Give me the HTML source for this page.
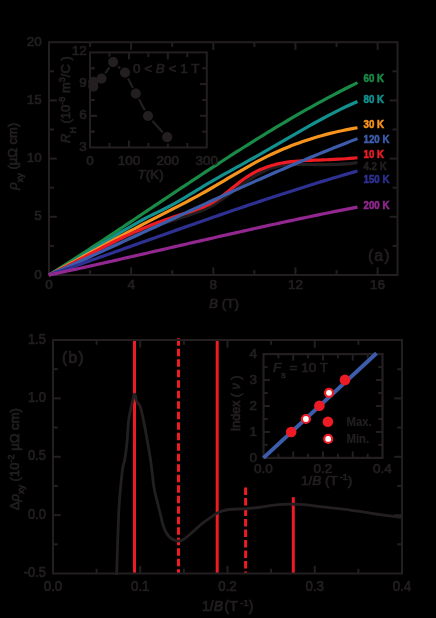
<!DOCTYPE html>
<html><head><meta charset="utf-8"><style>
html,body{margin:0;padding:0;background:#000;width:436px;height:618px;overflow:hidden}
svg{display:block;font-family:"Liberation Sans", sans-serif;will-change:transform}
text{stroke-width:0.7px}
</style></head><body>
<svg width="436" height="618" viewBox="0 0 436 618">
<rect width="436" height="618" fill="#000"/>
<rect x="49.0" y="42.2" width="348.50" height="232.80" fill="none" stroke="#231f20" stroke-width="2.0"/>
<line x1="90.08" y1="275.00" x2="90.08" y2="270.20" stroke="#231f20" stroke-width="2.0" />
<line x1="90.08" y1="42.20" x2="90.08" y2="47.00" stroke="#231f20" stroke-width="2.0" />
<line x1="131.15" y1="275.00" x2="131.15" y2="267.30" stroke="#231f20" stroke-width="2.0" />
<line x1="131.15" y1="42.20" x2="131.15" y2="49.90" stroke="#231f20" stroke-width="2.0" />
<line x1="172.23" y1="275.00" x2="172.23" y2="270.20" stroke="#231f20" stroke-width="2.0" />
<line x1="172.23" y1="42.20" x2="172.23" y2="47.00" stroke="#231f20" stroke-width="2.0" />
<line x1="213.30" y1="275.00" x2="213.30" y2="267.30" stroke="#231f20" stroke-width="2.0" />
<line x1="213.30" y1="42.20" x2="213.30" y2="49.90" stroke="#231f20" stroke-width="2.0" />
<line x1="254.38" y1="275.00" x2="254.38" y2="270.20" stroke="#231f20" stroke-width="2.0" />
<line x1="254.38" y1="42.20" x2="254.38" y2="47.00" stroke="#231f20" stroke-width="2.0" />
<line x1="295.45" y1="275.00" x2="295.45" y2="267.30" stroke="#231f20" stroke-width="2.0" />
<line x1="295.45" y1="42.20" x2="295.45" y2="49.90" stroke="#231f20" stroke-width="2.0" />
<line x1="336.53" y1="275.00" x2="336.53" y2="270.20" stroke="#231f20" stroke-width="2.0" />
<line x1="336.53" y1="42.20" x2="336.53" y2="47.00" stroke="#231f20" stroke-width="2.0" />
<line x1="377.60" y1="275.00" x2="377.60" y2="267.30" stroke="#231f20" stroke-width="2.0" />
<line x1="377.60" y1="42.20" x2="377.60" y2="49.90" stroke="#231f20" stroke-width="2.0" />
<line x1="49.00" y1="245.90" x2="54.00" y2="245.90" stroke="#231f20" stroke-width="2.0" />
<line x1="397.50" y1="245.90" x2="392.50" y2="245.90" stroke="#231f20" stroke-width="2.0" />
<line x1="49.00" y1="216.80" x2="56.90" y2="216.80" stroke="#231f20" stroke-width="2.0" />
<line x1="397.50" y1="216.80" x2="389.60" y2="216.80" stroke="#231f20" stroke-width="2.0" />
<line x1="49.00" y1="187.70" x2="54.00" y2="187.70" stroke="#231f20" stroke-width="2.0" />
<line x1="397.50" y1="187.70" x2="392.50" y2="187.70" stroke="#231f20" stroke-width="2.0" />
<line x1="49.00" y1="158.60" x2="56.90" y2="158.60" stroke="#231f20" stroke-width="2.0" />
<line x1="397.50" y1="158.60" x2="389.60" y2="158.60" stroke="#231f20" stroke-width="2.0" />
<line x1="49.00" y1="129.50" x2="54.00" y2="129.50" stroke="#231f20" stroke-width="2.0" />
<line x1="397.50" y1="129.50" x2="392.50" y2="129.50" stroke="#231f20" stroke-width="2.0" />
<line x1="49.00" y1="100.40" x2="56.90" y2="100.40" stroke="#231f20" stroke-width="2.0" />
<line x1="397.50" y1="100.40" x2="389.60" y2="100.40" stroke="#231f20" stroke-width="2.0" />
<line x1="49.00" y1="71.30" x2="54.00" y2="71.30" stroke="#231f20" stroke-width="2.0" />
<line x1="397.50" y1="71.30" x2="392.50" y2="71.30" stroke="#231f20" stroke-width="2.0" />
<text x="49.00" y="288.60" font-size="13.5" text-anchor="middle" fill="#231f20" stroke="#231f20" font-weight="normal" >0</text>
<text x="131.15" y="288.60" font-size="13.5" text-anchor="middle" fill="#231f20" stroke="#231f20" font-weight="normal" >4</text>
<text x="213.30" y="288.60" font-size="13.5" text-anchor="middle" fill="#231f20" stroke="#231f20" font-weight="normal" >8</text>
<text x="295.45" y="288.60" font-size="13.5" text-anchor="middle" fill="#231f20" stroke="#231f20" font-weight="normal" >12</text>
<text x="377.60" y="288.60" font-size="13.5" text-anchor="middle" fill="#231f20" stroke="#231f20" font-weight="normal" >16</text>
<text x="41.80" y="278.60" font-size="13.5" text-anchor="end" fill="#231f20" stroke="#231f20" font-weight="normal" >0</text>
<text x="41.80" y="220.40" font-size="13.5" text-anchor="end" fill="#231f20" stroke="#231f20" font-weight="normal" >5</text>
<text x="41.80" y="162.20" font-size="13.5" text-anchor="end" fill="#231f20" stroke="#231f20" font-weight="normal" >10</text>
<text x="41.80" y="104.00" font-size="13.5" text-anchor="end" fill="#231f20" stroke="#231f20" font-weight="normal" >15</text>
<text x="41.80" y="45.80" font-size="13.5" text-anchor="end" fill="#231f20" stroke="#231f20" font-weight="normal" >20</text>
<path d="M49.00,275.00 L52.91,272.55 L56.81,270.08 L60.72,267.61 L64.62,265.12 L68.53,262.63 L72.43,260.12 L76.34,257.60 L80.24,255.07 L84.15,252.54 L88.05,249.99 L91.96,247.44 L95.86,244.88 L99.77,242.31 L103.67,239.74 L107.58,237.16 L111.48,234.57 L115.39,231.98 L119.29,229.39 L123.20,226.79 L127.10,224.19 L131.01,221.58 L134.91,218.97 L138.82,216.36 L142.72,213.75 L146.63,211.14 L150.53,208.53 L154.44,205.92 L158.34,203.31 L162.25,200.70 L166.15,198.09 L170.06,195.48 L173.96,192.88 L177.87,190.27 L181.77,187.68 L185.68,185.08 L189.58,182.50 L193.49,179.91 L197.39,177.33 L201.30,174.76 L205.20,172.20 L209.11,169.64 L213.01,167.09 L216.92,164.55 L220.82,162.01 L224.73,159.49 L228.63,156.97 L232.54,154.47 L236.44,151.97 L240.35,149.49 L244.25,147.02 L248.16,144.56 L252.06,142.11 L255.97,139.68 L259.87,137.26 L263.78,134.86 L267.68,132.47 L271.59,130.09 L275.49,127.73 L279.40,125.39 L283.30,123.06 L287.21,120.75 L291.11,118.46 L295.02,116.18 L298.92,113.93 L302.83,111.69 L306.73,109.47 L310.64,107.28 L314.54,105.10 L318.45,102.95 L322.35,100.82 L326.26,98.71 L330.16,96.62 L334.07,94.55 L337.97,92.51 L341.88,90.50 L345.78,88.50 L349.69,86.54 L353.59,84.60 L357.50,82.68" fill="none" stroke="#1a8a47" stroke-width="3.2" stroke-linejoin="round"/>
<path d="M49.00,275.00 L52.91,272.99 L56.81,270.91 L60.72,268.77 L64.62,266.58 L68.53,264.34 L72.43,262.05 L76.34,259.73 L80.24,257.37 L84.15,254.98 L88.05,252.58 L91.96,250.16 L95.86,247.73 L99.77,245.29 L103.67,242.85 L107.58,240.42 L111.48,238.01 L115.39,235.61 L119.29,233.23 L123.20,230.88 L127.10,228.56 L131.01,226.29 L134.91,224.05 L138.82,221.87 L142.72,219.75 L146.63,217.69 L150.53,215.69 L154.44,213.76 L158.34,211.86 L162.25,209.97 L166.15,208.04 L170.06,206.03 L173.96,203.92 L177.87,201.72 L181.77,199.44 L185.68,197.10 L189.58,194.72 L193.49,192.33 L197.39,189.93 L201.30,187.56 L205.20,185.23 L209.11,182.93 L213.01,180.66 L216.92,178.41 L220.82,176.19 L224.73,173.98 L228.63,171.79 L232.54,169.61 L236.44,167.44 L240.35,165.28 L244.25,163.11 L248.16,160.94 L252.06,158.76 L255.97,156.57 L259.87,154.37 L263.78,152.15 L267.68,149.92 L271.59,147.67 L275.49,145.41 L279.40,143.15 L283.30,140.88 L287.21,138.61 L291.11,136.35 L295.02,134.09 L298.92,131.84 L302.83,129.61 L306.73,127.39 L310.64,125.19 L314.54,123.01 L318.45,120.86 L322.35,118.74 L326.26,116.65 L330.16,114.59 L334.07,112.57 L337.97,110.59 L341.88,108.66 L345.78,106.78 L349.69,104.94 L353.59,103.17 L357.50,101.44" fill="none" stroke="#12918f" stroke-width="3.2" stroke-linejoin="round"/>
<path d="M49.00,275.00 L52.91,272.93 L56.81,270.84 L60.72,268.75 L64.62,266.64 L68.53,264.53 L72.43,262.41 L76.34,260.29 L80.24,258.16 L84.15,256.03 L88.05,253.90 L91.96,251.77 L95.86,249.64 L99.77,247.50 L103.67,245.37 L107.58,243.25 L111.48,241.13 L115.39,239.01 L119.29,236.90 L123.20,234.79 L127.10,232.70 L131.01,230.61 L134.91,228.54 L138.82,226.47 L142.72,224.42 L146.63,222.38 L150.53,220.36 L154.44,218.35 L158.34,216.35 L162.25,214.36 L166.15,212.38 L170.06,210.39 L173.96,208.40 L177.87,206.39 L181.77,204.38 L185.68,202.34 L189.58,200.28 L193.49,198.20 L197.39,196.08 L201.30,193.93 L205.20,191.74 L209.11,189.51 L213.01,187.25 L216.92,184.95 L220.82,182.63 L224.73,180.31 L228.63,177.97 L232.54,175.64 L236.44,173.33 L240.35,171.03 L244.25,168.76 L248.16,166.52 L252.06,164.33 L255.97,162.19 L259.87,160.11 L263.78,158.09 L267.68,156.15 L271.59,154.27 L275.49,152.45 L279.40,150.70 L283.30,149.02 L287.21,147.40 L291.11,145.84 L295.02,144.34 L298.92,142.90 L302.83,141.51 L306.73,140.19 L310.64,138.92 L314.54,137.71 L318.45,136.56 L322.35,135.45 L326.26,134.40 L330.16,133.40 L334.07,132.46 L337.97,131.56 L341.88,130.71 L345.78,129.90 L349.69,129.15 L353.59,128.44 L357.50,127.77" fill="none" stroke="#f7941d" stroke-width="3.2" stroke-linejoin="round"/>
<path d="M49.00,275.00 L52.91,273.20 L56.81,271.36 L60.72,269.48 L64.62,267.58 L68.53,265.66 L72.43,263.71 L76.34,261.76 L80.24,259.79 L84.15,257.83 L88.05,255.86 L91.96,253.90 L95.86,251.95 L99.77,250.02 L103.67,248.11 L107.58,246.23 L111.48,244.37 L115.39,242.55 L119.29,240.78 L123.20,239.05 L127.10,237.36 L131.01,235.72 L134.91,234.12 L138.82,232.56 L142.72,231.03 L146.63,229.54 L150.53,228.09 L154.44,226.67 L158.34,225.28 L162.25,223.91 L166.15,222.58 L170.06,221.26 L173.96,219.97 L177.87,218.70 L181.77,217.45 L185.68,216.20 L189.58,214.92 L193.49,213.60 L197.39,212.19 L201.30,210.66 L205.20,208.98 L209.11,207.13 L213.01,205.07 L216.92,202.78 L220.82,200.25 L224.73,197.53 L228.63,194.69 L232.54,191.76 L236.44,188.81 L240.35,185.89 L244.25,183.05 L248.16,180.34 L252.06,177.79 L255.97,175.43 L259.87,173.26 L263.78,171.30 L267.68,169.57 L271.59,168.09 L275.49,166.87 L279.40,165.93 L283.30,165.23 L287.21,164.75 L291.11,164.44 L295.02,164.29 L298.92,164.24 L302.83,164.28 L306.73,164.37 L310.64,164.47 L314.54,164.55 L318.45,164.61 L322.35,164.65 L326.26,164.64 L330.16,164.60 L334.07,164.51 L337.97,164.37 L341.88,164.18 L345.78,163.91 L349.69,163.59 L353.59,163.18 L357.50,162.70" fill="none" stroke="#231f20" stroke-width="3.2" stroke-linejoin="round"/>
<path d="M49.00,275.00 L52.91,273.19 L56.81,271.32 L60.72,269.41 L64.62,267.47 L68.53,265.48 L72.43,263.47 L76.34,261.44 L80.24,259.39 L84.15,257.32 L88.05,255.25 L91.96,253.18 L95.86,251.12 L99.77,249.06 L103.67,247.02 L107.58,245.00 L111.48,243.01 L115.39,241.05 L119.29,239.13 L123.20,237.25 L127.10,235.42 L131.01,233.63 L134.91,231.88 L138.82,230.18 L142.72,228.53 L146.63,226.91 L150.53,225.34 L154.44,223.82 L158.34,222.34 L162.25,220.90 L166.15,219.51 L170.06,218.16 L173.96,216.85 L177.87,215.58 L181.77,214.36 L185.68,213.16 L189.58,211.95 L193.49,210.69 L197.39,209.34 L201.30,207.85 L205.20,206.18 L209.11,204.30 L213.01,202.16 L216.92,199.72 L220.82,196.99 L224.73,194.04 L228.63,190.95 L232.54,187.80 L236.44,184.66 L240.35,181.62 L244.25,178.76 L248.16,176.13 L252.06,173.78 L255.97,171.68 L259.87,169.81 L263.78,168.17 L267.68,166.73 L271.59,165.49 L275.49,164.43 L279.40,163.54 L283.30,162.80 L287.21,162.19 L291.11,161.69 L295.02,161.29 L298.92,160.98 L302.83,160.72 L306.73,160.52 L310.64,160.35 L314.54,160.19 L318.45,160.04 L322.35,159.89 L326.26,159.75 L330.16,159.59 L334.07,159.41 L337.97,159.22 L341.88,159.00 L345.78,158.75 L349.69,158.46 L353.59,158.12 L357.50,157.74" fill="none" stroke="#ed1c24" stroke-width="3.2" stroke-linejoin="round"/>
<path d="M49.00,275.00 L52.91,273.29 L56.81,271.58 L60.72,269.86 L64.62,268.14 L68.53,266.41 L72.43,264.67 L76.34,262.93 L80.24,261.18 L84.15,259.43 L88.05,257.67 L91.96,255.91 L95.86,254.14 L99.77,252.37 L103.67,250.59 L107.58,248.81 L111.48,247.03 L115.39,245.24 L119.29,243.45 L123.20,241.66 L127.10,239.87 L131.01,238.07 L134.91,236.27 L138.82,234.47 L142.72,232.67 L146.63,230.87 L150.53,229.07 L154.44,227.26 L158.34,225.46 L162.25,223.65 L166.15,221.85 L170.06,220.04 L173.96,218.24 L177.87,216.43 L181.77,214.63 L185.68,212.83 L189.58,211.03 L193.49,209.23 L197.39,207.44 L201.30,205.64 L205.20,203.85 L209.11,202.06 L213.01,200.28 L216.92,198.50 L220.82,196.72 L224.73,194.94 L228.63,193.17 L232.54,191.41 L236.44,189.64 L240.35,187.89 L244.25,186.13 L248.16,184.39 L252.06,182.65 L255.97,180.91 L259.87,179.18 L263.78,177.46 L267.68,175.74 L271.59,174.03 L275.49,172.33 L279.40,170.63 L283.30,168.94 L287.21,167.26 L291.11,165.59 L295.02,163.92 L298.92,162.27 L302.83,160.62 L306.73,158.98 L310.64,157.35 L314.54,155.73 L318.45,154.13 L322.35,152.53 L326.26,150.94 L330.16,149.36 L334.07,147.79 L337.97,146.23 L341.88,144.69 L345.78,143.15 L349.69,141.63 L353.59,140.12 L357.50,138.62" fill="none" stroke="#3d5dac" stroke-width="3.2" stroke-linejoin="round"/>
<path d="M49.00,275.00 L52.91,273.66 L56.81,272.31 L60.72,270.96 L64.62,269.61 L68.53,268.25 L72.43,266.89 L76.34,265.53 L80.24,264.16 L84.15,262.79 L88.05,261.42 L91.96,260.05 L95.86,258.67 L99.77,257.30 L103.67,255.92 L107.58,254.54 L111.48,253.16 L115.39,251.77 L119.29,250.39 L123.20,249.01 L127.10,247.62 L131.01,246.24 L134.91,244.85 L138.82,243.46 L142.72,242.08 L146.63,240.69 L150.53,239.31 L154.44,237.92 L158.34,236.54 L162.25,235.15 L166.15,233.77 L170.06,232.39 L173.96,231.01 L177.87,229.63 L181.77,228.26 L185.68,226.88 L189.58,225.51 L193.49,224.14 L197.39,222.77 L201.30,221.41 L205.20,220.05 L209.11,218.69 L213.01,217.33 L216.92,215.98 L220.82,214.63 L224.73,213.29 L228.63,211.95 L232.54,210.61 L236.44,209.28 L240.35,207.95 L244.25,206.62 L248.16,205.30 L252.06,203.99 L255.97,202.68 L259.87,201.38 L263.78,200.08 L267.68,198.79 L271.59,197.50 L275.49,196.22 L279.40,194.94 L283.30,193.67 L287.21,192.41 L291.11,191.16 L295.02,189.91 L298.92,188.67 L302.83,187.43 L306.73,186.20 L310.64,184.99 L314.54,183.77 L318.45,182.57 L322.35,181.37 L326.26,180.19 L330.16,179.01 L334.07,177.84 L337.97,176.67 L341.88,175.52 L345.78,174.38 L349.69,173.24 L353.59,172.12 L357.50,171.00" fill="none" stroke="#2e3192" stroke-width="3.2" stroke-linejoin="round"/>
<path d="M49.00,275.00 L52.91,274.17 L56.81,273.33 L60.72,272.49 L64.62,271.64 L68.53,270.79 L72.43,269.93 L76.34,269.07 L80.24,268.21 L84.15,267.35 L88.05,266.48 L91.96,265.61 L95.86,264.74 L99.77,263.86 L103.67,262.98 L107.58,262.10 L111.48,261.22 L115.39,260.33 L119.29,259.45 L123.20,258.56 L127.10,257.67 L131.01,256.78 L134.91,255.88 L138.82,254.99 L142.72,254.09 L146.63,253.20 L150.53,252.30 L154.44,251.40 L158.34,250.50 L162.25,249.60 L166.15,248.70 L170.06,247.80 L173.96,246.90 L177.87,246.00 L181.77,245.11 L185.68,244.21 L189.58,243.31 L193.49,242.41 L197.39,241.51 L201.30,240.62 L205.20,239.72 L209.11,238.83 L213.01,237.94 L216.92,237.04 L220.82,236.15 L224.73,235.27 L228.63,234.38 L232.54,233.50 L236.44,232.62 L240.35,231.74 L244.25,230.86 L248.16,229.99 L252.06,229.11 L255.97,228.24 L259.87,227.38 L263.78,226.52 L267.68,225.66 L271.59,224.80 L275.49,223.95 L279.40,223.10 L283.30,222.25 L287.21,221.41 L291.11,220.58 L295.02,219.74 L298.92,218.91 L302.83,218.09 L306.73,217.27 L310.64,216.45 L314.54,215.64 L318.45,214.84 L322.35,214.04 L326.26,213.25 L330.16,212.46 L334.07,211.67 L337.97,210.90 L341.88,210.12 L345.78,209.36 L349.69,208.60 L353.59,207.84 L357.50,207.10" fill="none" stroke="#92278f" stroke-width="3.2" stroke-linejoin="round"/>
<text transform="translate(363.5,82.30) scale(0.9,1)" font-size="10.8" fill="#1a8a47" stroke="#1a8a47" font-weight="bold" style="stroke-width:0.55px">60 K</text>
<text transform="translate(363.5,103.40) scale(0.9,1)" font-size="10.8" fill="#12918f" stroke="#12918f" font-weight="bold" style="stroke-width:0.55px">80 K</text>
<text transform="translate(363.5,127.55) scale(0.9,1)" font-size="10.8" fill="#f7941d" stroke="#f7941d" font-weight="bold" style="stroke-width:0.55px">30 K</text>
<text transform="translate(363.5,142.80) scale(0.9,1)" font-size="10.8" fill="#3d5dac" stroke="#3d5dac" font-weight="bold" style="stroke-width:0.55px">120 K</text>
<text transform="translate(363.5,157.80) scale(0.9,1)" font-size="10.8" fill="#ed1c24" stroke="#ed1c24" font-weight="bold" style="stroke-width:0.55px">10 K</text>
<text transform="translate(363.5,169.80) scale(0.9,1)" font-size="10.8" fill="#231f20" stroke="#231f20" font-weight="bold" style="stroke-width:0.55px">4.2 K</text>
<text transform="translate(363.5,182.80) scale(0.9,1)" font-size="10.8" fill="#2e3192" stroke="#2e3192" font-weight="bold" style="stroke-width:0.55px">150 K</text>
<text transform="translate(363.5,208.80) scale(0.9,1)" font-size="10.8" fill="#92278f" stroke="#92278f" font-weight="bold" style="stroke-width:0.55px">200 K</text>
<text x="379.20" y="261.00" font-size="16" text-anchor="middle" fill="#231f20" stroke="#231f20" font-weight="normal" letter-spacing="1">(a)</text>
<text x="224" y="308.3" font-size="13.5" text-anchor="middle" fill="#231f20" stroke="#231f20"><tspan font-style="italic">B</tspan> (T)</text>
<text transform="translate(17,156.2) rotate(-90)" font-size="13" text-anchor="middle" fill="#231f20" stroke="#231f20"><tspan font-style="italic">ρ</tspan><tspan font-size="9" dy="5.5">xy</tspan><tspan dy="-5.5"> (μΩ cm)</tspan></text>
<rect x="90.0" y="52.4" width="116.80" height="95.10" fill="none" stroke="#231f20" stroke-width="2.0"/>
<line x1="109.47" y1="147.50" x2="109.47" y2="142.90" stroke="#231f20" stroke-width="2.0" />
<line x1="109.47" y1="52.40" x2="109.47" y2="57.00" stroke="#231f20" stroke-width="2.0" />
<line x1="128.93" y1="147.50" x2="128.93" y2="140.50" stroke="#231f20" stroke-width="2.0" />
<line x1="128.93" y1="52.40" x2="128.93" y2="59.40" stroke="#231f20" stroke-width="2.0" />
<line x1="148.40" y1="147.50" x2="148.40" y2="142.90" stroke="#231f20" stroke-width="2.0" />
<line x1="148.40" y1="52.40" x2="148.40" y2="57.00" stroke="#231f20" stroke-width="2.0" />
<line x1="167.87" y1="147.50" x2="167.87" y2="140.50" stroke="#231f20" stroke-width="2.0" />
<line x1="167.87" y1="52.40" x2="167.87" y2="59.40" stroke="#231f20" stroke-width="2.0" />
<line x1="187.33" y1="147.50" x2="187.33" y2="142.90" stroke="#231f20" stroke-width="2.0" />
<line x1="187.33" y1="52.40" x2="187.33" y2="57.00" stroke="#231f20" stroke-width="2.0" />
<line x1="90.00" y1="131.65" x2="94.60" y2="131.65" stroke="#231f20" stroke-width="2.0" />
<line x1="206.80" y1="131.65" x2="202.20" y2="131.65" stroke="#231f20" stroke-width="2.0" />
<line x1="90.00" y1="115.80" x2="97.00" y2="115.80" stroke="#231f20" stroke-width="2.0" />
<line x1="206.80" y1="115.80" x2="199.80" y2="115.80" stroke="#231f20" stroke-width="2.0" />
<line x1="90.00" y1="99.95" x2="94.60" y2="99.95" stroke="#231f20" stroke-width="2.0" />
<line x1="206.80" y1="99.95" x2="202.20" y2="99.95" stroke="#231f20" stroke-width="2.0" />
<line x1="90.00" y1="84.10" x2="97.00" y2="84.10" stroke="#231f20" stroke-width="2.0" />
<line x1="206.80" y1="84.10" x2="199.80" y2="84.10" stroke="#231f20" stroke-width="2.0" />
<line x1="90.00" y1="68.25" x2="94.60" y2="68.25" stroke="#231f20" stroke-width="2.0" />
<line x1="206.80" y1="68.25" x2="202.20" y2="68.25" stroke="#231f20" stroke-width="2.0" />
<text x="90.00" y="164.60" font-size="13.5" text-anchor="middle" fill="#231f20" stroke="#231f20" font-weight="normal" >0</text>
<text x="128.93" y="164.60" font-size="13.5" text-anchor="middle" fill="#231f20" stroke="#231f20" font-weight="normal" >100</text>
<text x="167.87" y="164.60" font-size="13.5" text-anchor="middle" fill="#231f20" stroke="#231f20" font-weight="normal" >200</text>
<text x="206.80" y="164.60" font-size="13.5" text-anchor="middle" fill="#231f20" stroke="#231f20" font-weight="normal" >300</text>
<text x="86.80" y="150.50" font-size="13.5" text-anchor="end" fill="#231f20" stroke="#231f20" font-weight="normal" >3</text>
<text x="86.80" y="118.80" font-size="13.5" text-anchor="end" fill="#231f20" stroke="#231f20" font-weight="normal" >6</text>
<text x="86.80" y="87.10" font-size="13.5" text-anchor="end" fill="#231f20" stroke="#231f20" font-weight="normal" >9</text>
<text x="86.80" y="55.40" font-size="13.5" text-anchor="end" fill="#231f20" stroke="#231f20" font-weight="normal" >12</text>
<polyline points="93.3,86.6 93.3,81.9 101.5,78.6 113.1,62.1 125,72.6 135.8,93.6 148,116 167.2,137.2" fill="none" stroke="#231f20" stroke-width="2.2"/>
<circle cx="93.3" cy="86.6" r="6.6" fill="#000"/>
<circle cx="93.3" cy="81.9" r="6.6" fill="#000"/>
<circle cx="101.5" cy="78.6" r="6.6" fill="#000"/>
<circle cx="113.1" cy="62.1" r="6.6" fill="#000"/>
<circle cx="125" cy="72.6" r="6.6" fill="#000"/>
<circle cx="135.8" cy="93.6" r="6.6" fill="#000"/>
<circle cx="148" cy="116" r="6.6" fill="#000"/>
<circle cx="167.2" cy="137.2" r="6.6" fill="#000"/>
<line x1="90.00" y1="52.40" x2="90.00" y2="147.50" stroke="#231f20" stroke-width="2.0" />
<line x1="90.00" y1="131.65" x2="94.60" y2="131.65" stroke="#231f20" stroke-width="2.0" />
<line x1="90.00" y1="115.80" x2="97.00" y2="115.80" stroke="#231f20" stroke-width="2.0" />
<line x1="90.00" y1="99.95" x2="94.60" y2="99.95" stroke="#231f20" stroke-width="2.0" />
<line x1="90.00" y1="84.10" x2="97.00" y2="84.10" stroke="#231f20" stroke-width="2.0" />
<line x1="90.00" y1="68.25" x2="94.60" y2="68.25" stroke="#231f20" stroke-width="2.0" />
<circle cx="93.3" cy="86.6" r="5.1" fill="#231f20"/>
<circle cx="93.3" cy="81.9" r="5.1" fill="#231f20"/>
<circle cx="101.5" cy="78.6" r="5.1" fill="#231f20"/>
<circle cx="113.1" cy="62.1" r="5.1" fill="#231f20"/>
<circle cx="125" cy="72.6" r="5.1" fill="#231f20"/>
<circle cx="135.8" cy="93.6" r="5.1" fill="#231f20"/>
<circle cx="148" cy="116" r="5.1" fill="#231f20"/>
<circle cx="167.2" cy="137.2" r="5.1" fill="#231f20"/>
<text x="199.5" y="72.5" font-size="13.5" text-anchor="end" fill="#231f20" stroke="#231f20">0 &lt; <tspan font-style="italic">B</tspan> &lt; 1 T</text>
<text x="150.5" y="179.2" font-size="13.5" text-anchor="middle" fill="#231f20" stroke="#231f20"><tspan font-style="italic">T</tspan>(K)</text>
<text transform="translate(70,99.6) rotate(-90)" font-size="13" text-anchor="middle" fill="#231f20" stroke="#231f20"><tspan font-style="italic">R</tspan><tspan font-size="9" dy="5.5">H</tspan><tspan dy="-5.5"> (10</tspan><tspan font-size="9" dy="-5">-8</tspan><tspan dy="5"> m</tspan><tspan font-size="9" dy="-5">3</tspan><tspan dy="5">/C )</tspan></text>
<line x1="134.50" y1="340.00" x2="134.50" y2="573.50" stroke="#ed1c24" stroke-width="3" />
<line x1="178.5" y1="338.2" x2="178.5" y2="573.5" stroke="#ed1c24" stroke-width="3" stroke-dasharray="7.6 2.9"/>
<line x1="217.20" y1="340.00" x2="217.20" y2="573.50" stroke="#ed1c24" stroke-width="3" />
<line x1="245.6" y1="487.4" x2="245.6" y2="573.5" stroke="#ed1c24" stroke-width="3" stroke-dasharray="7.6 2.9"/>
<line x1="293.30" y1="497.20" x2="293.30" y2="573.50" stroke="#ed1c24" stroke-width="3" />
<rect x="53.0" y="340.0" width="349.00" height="233.50" fill="none" stroke="#231f20" stroke-width="2.0"/>
<line x1="96.62" y1="573.50" x2="96.62" y2="568.70" stroke="#231f20" stroke-width="2.0" />
<line x1="96.62" y1="340.00" x2="96.62" y2="344.80" stroke="#231f20" stroke-width="2.0" />
<line x1="140.25" y1="573.50" x2="140.25" y2="565.80" stroke="#231f20" stroke-width="2.0" />
<line x1="140.25" y1="340.00" x2="140.25" y2="347.70" stroke="#231f20" stroke-width="2.0" />
<line x1="183.88" y1="573.50" x2="183.88" y2="568.70" stroke="#231f20" stroke-width="2.0" />
<line x1="183.88" y1="340.00" x2="183.88" y2="344.80" stroke="#231f20" stroke-width="2.0" />
<line x1="227.50" y1="573.50" x2="227.50" y2="565.80" stroke="#231f20" stroke-width="2.0" />
<line x1="227.50" y1="340.00" x2="227.50" y2="347.70" stroke="#231f20" stroke-width="2.0" />
<line x1="271.12" y1="573.50" x2="271.12" y2="568.70" stroke="#231f20" stroke-width="2.0" />
<line x1="271.12" y1="340.00" x2="271.12" y2="344.80" stroke="#231f20" stroke-width="2.0" />
<line x1="314.75" y1="573.50" x2="314.75" y2="565.80" stroke="#231f20" stroke-width="2.0" />
<line x1="314.75" y1="340.00" x2="314.75" y2="347.70" stroke="#231f20" stroke-width="2.0" />
<line x1="358.38" y1="573.50" x2="358.38" y2="568.70" stroke="#231f20" stroke-width="2.0" />
<line x1="358.38" y1="340.00" x2="358.38" y2="344.80" stroke="#231f20" stroke-width="2.0" />
<line x1="53.00" y1="544.31" x2="57.80" y2="544.31" stroke="#231f20" stroke-width="2.0" />
<line x1="402.00" y1="544.31" x2="397.20" y2="544.31" stroke="#231f20" stroke-width="2.0" />
<line x1="53.00" y1="515.12" x2="60.70" y2="515.12" stroke="#231f20" stroke-width="2.0" />
<line x1="402.00" y1="515.12" x2="394.30" y2="515.12" stroke="#231f20" stroke-width="2.0" />
<line x1="53.00" y1="485.94" x2="57.80" y2="485.94" stroke="#231f20" stroke-width="2.0" />
<line x1="402.00" y1="485.94" x2="397.20" y2="485.94" stroke="#231f20" stroke-width="2.0" />
<line x1="53.00" y1="456.75" x2="60.70" y2="456.75" stroke="#231f20" stroke-width="2.0" />
<line x1="402.00" y1="456.75" x2="394.30" y2="456.75" stroke="#231f20" stroke-width="2.0" />
<line x1="53.00" y1="427.56" x2="57.80" y2="427.56" stroke="#231f20" stroke-width="2.0" />
<line x1="402.00" y1="427.56" x2="397.20" y2="427.56" stroke="#231f20" stroke-width="2.0" />
<line x1="53.00" y1="398.38" x2="60.70" y2="398.38" stroke="#231f20" stroke-width="2.0" />
<line x1="402.00" y1="398.38" x2="394.30" y2="398.38" stroke="#231f20" stroke-width="2.0" />
<line x1="53.00" y1="369.19" x2="57.80" y2="369.19" stroke="#231f20" stroke-width="2.0" />
<line x1="402.00" y1="369.19" x2="397.20" y2="369.19" stroke="#231f20" stroke-width="2.0" />
<text transform="translate(53.00,590.80) scale(0.95,1)" font-size="14" text-anchor="middle" fill="#231f20" stroke="#231f20" font-weight="normal" >0.0</text>
<text transform="translate(140.25,590.80) scale(0.95,1)" font-size="14" text-anchor="middle" fill="#231f20" stroke="#231f20" font-weight="normal" >0.1</text>
<text transform="translate(227.50,590.80) scale(0.95,1)" font-size="14" text-anchor="middle" fill="#231f20" stroke="#231f20" font-weight="normal" >0.2</text>
<text transform="translate(314.75,590.80) scale(0.95,1)" font-size="14" text-anchor="middle" fill="#231f20" stroke="#231f20" font-weight="normal" >0.3</text>
<text transform="translate(402.00,590.80) scale(0.95,1)" font-size="14" text-anchor="middle" fill="#231f20" stroke="#231f20" font-weight="normal" >0.4</text>
<text transform="translate(45.80,577.10) scale(0.92,1)" font-size="14" text-anchor="end" fill="#231f20" stroke="#231f20" font-weight="normal" >-0.5</text>
<text transform="translate(45.80,518.73) scale(0.92,1)" font-size="14" text-anchor="end" fill="#231f20" stroke="#231f20" font-weight="normal" >0.0</text>
<text transform="translate(45.80,460.35) scale(0.92,1)" font-size="14" text-anchor="end" fill="#231f20" stroke="#231f20" font-weight="normal" >0.5</text>
<text transform="translate(45.80,401.98) scale(0.92,1)" font-size="14" text-anchor="end" fill="#231f20" stroke="#231f20" font-weight="normal" >1.0</text>
<text transform="translate(45.80,343.60) scale(0.92,1)" font-size="14" text-anchor="end" fill="#231f20" stroke="#231f20" font-weight="normal" >1.5</text>
<text x="73.20" y="363.00" font-size="16" text-anchor="middle" fill="#231f20" stroke="#231f20" font-weight="normal" letter-spacing="1">(b)</text>
<path d="M116.60,575.00 C117.00,563.83 118.02,525.58 119.00,508.00 C119.98,490.42 121.55,477.50 122.50,469.50 C123.45,461.50 123.95,464.53 124.70,460.00 C125.45,455.47 126.48,447.15 127.00,442.30 C127.52,437.45 127.50,434.72 127.80,430.90 C128.10,427.08 128.27,423.22 128.80,419.40 C129.33,415.58 130.05,412.20 131.00,408.00 C131.95,403.80 133.53,395.28 134.50,394.20 C135.47,393.12 135.90,399.57 136.80,401.50 C137.70,403.43 138.98,403.62 139.90,405.80 C140.82,407.98 141.42,410.72 142.30,414.60 C143.18,418.48 144.28,424.25 145.20,429.10 C146.12,433.95 146.95,438.85 147.80,443.70 C148.65,448.55 149.57,453.35 150.30,458.20 C151.03,463.05 151.55,467.70 152.20,472.80 C152.85,477.90 153.32,483.83 154.20,488.80 C155.08,493.77 156.48,498.40 157.50,502.60 C158.52,506.80 159.37,510.22 160.30,514.00 C161.23,517.78 162.07,522.10 163.10,525.30 C164.13,528.50 165.27,531.12 166.50,533.20 C167.73,535.28 168.98,536.57 170.50,537.80 C172.02,539.03 174.35,540.07 175.60,540.60 C176.85,541.13 176.68,541.18 178.00,541.00 C179.32,540.82 181.08,540.98 183.50,539.50 C185.92,538.02 189.47,534.70 192.50,532.10 C195.53,529.50 198.63,526.35 201.70,523.90 C204.77,521.45 208.15,519.30 210.90,517.40 C213.65,515.50 215.15,513.82 218.20,512.50 C221.25,511.18 224.73,510.12 229.20,509.50 C233.67,508.88 240.20,509.13 245.00,508.80 C249.80,508.47 252.83,508.17 258.00,507.50 C263.17,506.83 270.67,505.35 276.00,504.80 C281.33,504.25 285.33,504.22 290.00,504.20 C294.67,504.18 299.42,504.35 304.00,504.70 C308.58,505.05 312.95,505.78 317.50,506.30 C322.05,506.82 326.72,507.28 331.30,507.80 C335.88,508.32 339.48,508.67 345.00,509.40 C350.52,510.13 358.30,511.30 364.40,512.20 C370.50,513.10 375.50,513.95 381.60,514.80 C387.70,515.65 397.77,516.88 401.00,517.30" fill="none" stroke="#231f20" stroke-width="2.8" stroke-linejoin="round"/>
<rect x="263.5" y="354.1" width="119.00" height="103.80" fill="none" stroke="#231f20" stroke-width="2.2"/>
<line x1="278.38" y1="457.90" x2="278.38" y2="453.70" stroke="#231f20" stroke-width="2.0" />
<line x1="278.38" y1="354.10" x2="278.38" y2="358.30" stroke="#231f20" stroke-width="2.0" />
<line x1="293.25" y1="457.90" x2="293.25" y2="451.40" stroke="#231f20" stroke-width="2.0" />
<line x1="293.25" y1="354.10" x2="293.25" y2="360.60" stroke="#231f20" stroke-width="2.0" />
<line x1="308.12" y1="457.90" x2="308.12" y2="453.70" stroke="#231f20" stroke-width="2.0" />
<line x1="308.12" y1="354.10" x2="308.12" y2="358.30" stroke="#231f20" stroke-width="2.0" />
<line x1="323.00" y1="457.90" x2="323.00" y2="451.40" stroke="#231f20" stroke-width="2.0" />
<line x1="323.00" y1="354.10" x2="323.00" y2="360.60" stroke="#231f20" stroke-width="2.0" />
<line x1="337.88" y1="457.90" x2="337.88" y2="453.70" stroke="#231f20" stroke-width="2.0" />
<line x1="337.88" y1="354.10" x2="337.88" y2="358.30" stroke="#231f20" stroke-width="2.0" />
<line x1="352.75" y1="457.90" x2="352.75" y2="451.40" stroke="#231f20" stroke-width="2.0" />
<line x1="352.75" y1="354.10" x2="352.75" y2="360.60" stroke="#231f20" stroke-width="2.0" />
<line x1="367.62" y1="457.90" x2="367.62" y2="453.70" stroke="#231f20" stroke-width="2.0" />
<line x1="367.62" y1="354.10" x2="367.62" y2="358.30" stroke="#231f20" stroke-width="2.0" />
<line x1="263.50" y1="444.92" x2="267.70" y2="444.92" stroke="#231f20" stroke-width="2.0" />
<line x1="382.50" y1="444.92" x2="378.30" y2="444.92" stroke="#231f20" stroke-width="2.0" />
<line x1="263.50" y1="431.95" x2="270.00" y2="431.95" stroke="#231f20" stroke-width="2.0" />
<line x1="382.50" y1="431.95" x2="376.00" y2="431.95" stroke="#231f20" stroke-width="2.0" />
<line x1="263.50" y1="418.98" x2="267.70" y2="418.98" stroke="#231f20" stroke-width="2.0" />
<line x1="382.50" y1="418.98" x2="378.30" y2="418.98" stroke="#231f20" stroke-width="2.0" />
<line x1="263.50" y1="406.00" x2="270.00" y2="406.00" stroke="#231f20" stroke-width="2.0" />
<line x1="382.50" y1="406.00" x2="376.00" y2="406.00" stroke="#231f20" stroke-width="2.0" />
<line x1="263.50" y1="393.02" x2="267.70" y2="393.02" stroke="#231f20" stroke-width="2.0" />
<line x1="382.50" y1="393.02" x2="378.30" y2="393.02" stroke="#231f20" stroke-width="2.0" />
<line x1="263.50" y1="380.05" x2="270.00" y2="380.05" stroke="#231f20" stroke-width="2.0" />
<line x1="382.50" y1="380.05" x2="376.00" y2="380.05" stroke="#231f20" stroke-width="2.0" />
<line x1="263.50" y1="367.08" x2="267.70" y2="367.08" stroke="#231f20" stroke-width="2.0" />
<line x1="382.50" y1="367.08" x2="378.30" y2="367.08" stroke="#231f20" stroke-width="2.0" />
<text x="263.50" y="472.50" font-size="13.5" text-anchor="middle" fill="#231f20" stroke="#231f20" font-weight="normal" >0.0</text>
<text x="323.00" y="472.50" font-size="13.5" text-anchor="middle" fill="#231f20" stroke="#231f20" font-weight="normal" >0.2</text>
<text x="382.50" y="472.50" font-size="13.5" text-anchor="middle" fill="#231f20" stroke="#231f20" font-weight="normal" >0.4</text>
<text x="257.00" y="461.50" font-size="13.5" text-anchor="end" fill="#231f20" stroke="#231f20" font-weight="normal" >0</text>
<text x="257.00" y="435.55" font-size="13.5" text-anchor="end" fill="#231f20" stroke="#231f20" font-weight="normal" >1</text>
<text x="257.00" y="409.60" font-size="13.5" text-anchor="end" fill="#231f20" stroke="#231f20" font-weight="normal" >2</text>
<text x="257.00" y="383.65" font-size="13.5" text-anchor="end" fill="#231f20" stroke="#231f20" font-weight="normal" >3</text>
<text x="257.00" y="357.70" font-size="13.5" text-anchor="end" fill="#231f20" stroke="#231f20" font-weight="normal" >4</text>
<line x1="263.5" y1="457.9" x2="376.5" y2="353.3" stroke="#3d5dac" stroke-width="4"/>
<circle cx="291.2" cy="432" r="5.3" fill="#ed1c24"/>
<circle cx="319.4" cy="405.7" r="5.3" fill="#ed1c24"/>
<circle cx="345" cy="379.9" r="5.3" fill="#ed1c24"/>
<circle cx="305.9" cy="419" r="4.0" fill="#fff" stroke="#ed1c24" stroke-width="2.2"/>
<circle cx="329" cy="392.8" r="4.0" fill="#fff" stroke="#ed1c24" stroke-width="2.2"/>
<circle cx="327.9" cy="421.8" r="5.3" fill="#ed1c24"/>
<circle cx="328.2" cy="438.9" r="4.0" fill="#fff" stroke="#ed1c24" stroke-width="2.2"/>
<text transform="translate(346.60,426.40) scale(0.9,1)" font-size="12.5" text-anchor="start" fill="#231f20" stroke="#231f20" font-weight="bold" style="stroke-width:0.2px">Max.</text>
<text transform="translate(346.60,442.90) scale(0.9,1)" font-size="12.5" text-anchor="start" fill="#231f20" stroke="#231f20" font-weight="bold" style="stroke-width:0.2px">Min.</text>
<text x="273" y="372.3" font-size="13.5" fill="#231f20" stroke="#231f20"><tspan font-style="italic">F</tspan><tspan font-size="9" dy="5.5">s</tspan><tspan dy="-5.5"> = 10 T</tspan></text>
<text x="301" y="485.3" font-size="13.5" fill="#231f20" stroke="#231f20">1/<tspan font-style="italic">B</tspan> (T<tspan font-size="9" dy="-5" dx="2">-1</tspan><tspan dy="5">)</tspan></text>
<text transform="translate(240.2,403.4) rotate(-90)" font-size="12.5" text-anchor="middle" fill="#231f20" stroke="#231f20">Index ( <tspan font-style="italic">ν</tspan> )</text>
<text x="202" y="611.3" font-size="14" fill="#231f20" stroke="#231f20">1/<tspan font-style="italic">B</tspan><tspan dx="1.5">(T</tspan><tspan font-size="9.5" dy="-5.5" dx="2.5">-1</tspan><tspan dy="5.5">)</tspan></text>
<text transform="translate(18.8,459.2) rotate(-90)" font-size="13.1" text-anchor="middle" fill="#231f20" stroke="#231f20">Δ<tspan font-style="italic">ρ</tspan><tspan font-size="9" dy="5.5">xy</tspan><tspan dy="-5.5"> (10</tspan><tspan font-size="9" dy="-5">-2</tspan><tspan dy="5"> μΩ cm)</tspan></text>
</svg></body></html>
